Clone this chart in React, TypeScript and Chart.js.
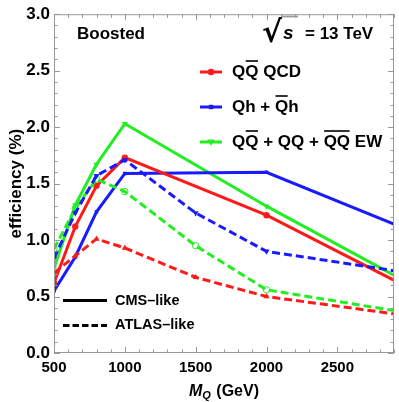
import React, { useEffect, useRef } from 'react';
import { Chart, registerables } from 'chart.js';
Chart.register(...registerables);

const masses = [500, 650, 800, 1000, 1500, 2000, 3000];
const qcdCms = [0.62, 1.12, 1.48, 1.73, null, 1.22, 0.58];
const qhCms = [0.55, 0.85, 1.25, 1.59, null, 1.6, 1.09];
const ewCms = [0.75, 1.31, 1.67, 2.03, null, 1.3, 0.62];
const qcdAtlas = [0.71, 0.86, 1.01, 0.93, 0.67, 0.5, 0.33];
const qhAtlas = [0.84, 1.24, 1.57, 1.71, 1.24, 0.9, 0.71];
const ewAtlas = [0.92, 1.28, 1.54, 1.43, 0.95, 0.56, 0.355];

const xTicks = [500, 1000, 1500, 2000, 2500];
const yTicks = [0, 0.5, 1.0, 1.5, 2.0, 2.5, 3.0];

const RED = '#ff1a1a';
const BLUE = '#1a1aff';
const GREEN = '#22ee22';
const FONT = '"Liberation Sans", Arial, sans-serif';

type Part = { t: string; o?: boolean };

function drawRich(ctx: CanvasRenderingContext2D, parts: Part[], x: number, y: number, font: string) {
  ctx.font = font;
  ctx.textBaseline = 'alphabetic';
  ctx.textAlign = 'left';
  let cx = x;
  for (const p of parts) {
    const w = ctx.measureText(p.t).width;
    ctx.fillText(p.t, cx, y);
    if (p.o) {
      ctx.save();
      ctx.lineWidth = 1.6;
      ctx.strokeStyle = '#000';
      ctx.beginPath();
      ctx.moveTo(cx + 0.5, y - 16);
      ctx.lineTo(cx + w - 0.5, y - 16);
      ctx.stroke();
      ctx.restore();
    }
    cx += w;
  }
}

function marker(ctx: CanvasRenderingContext2D, kind: string, x: number, y: number, color: string) {
  ctx.save();
  ctx.fillStyle = color;
  ctx.beginPath();
  if (kind === 'circle') {
    ctx.arc(x, y, 3.2, 0, Math.PI * 2);
  } else if (kind === 'rect') {
    ctx.rect(x - 2.2, y - 2.2, 4.4, 4.4);
  } else {
    ctx.moveTo(x - 3.8, y - 2.5);
    ctx.lineTo(x + 3.8, y - 2.5);
    ctx.lineTo(x, y + 3.8);
    ctx.closePath();
  }
  ctx.fill();
  ctx.restore();
}

const overlay = {
  id: 'overlay',
  afterDraw(chart: any) {
    const ctx: CanvasRenderingContext2D = chart.ctx;
    const a = chart.chartArea;
    const xs = chart.scales.x;
    const ys = chart.scales.y;
    ctx.save();
    // frame
    ctx.strokeStyle = '#999';
    ctx.lineWidth = 1;
    ctx.strokeRect(a.left + 0.5, a.top + 0.5, a.right - a.left - 1, a.bottom - a.top - 1);
    // ticks
    ctx.beginPath();
    for (let v = 500; v <= 2900; v += 100) {
      const px = Math.round(xs.getPixelForValue(v)) + 0.5;
      const len = v % 500 === 0 ? 6 : 3.5;
      ctx.moveTo(px, a.bottom);
      ctx.lineTo(px, a.bottom - len);
      ctx.moveTo(px, a.top);
      ctx.lineTo(px, a.top + len);
    }
    for (let i = 0; i <= 30; i++) {
      const v = i / 10;
      const py = Math.round(ys.getPixelForValue(v)) + 0.5;
      const len = i % 5 === 0 ? 6 : 3.5;
      ctx.moveTo(a.left, py);
      ctx.lineTo(a.left + len, py);
      ctx.moveTo(a.right, py);
      ctx.lineTo(a.right - len, py);
    }
    ctx.stroke();

    ctx.fillStyle = '#000';
    // Boosted
    ctx.font = `bold 17px ${FONT}`;
    ctx.textAlign = 'left';
    ctx.textBaseline = 'alphabetic';
    ctx.fillText('Boosted', 77, 39);

    // sqrt(s) = 13 TeV
    ctx.font = `bold 30px "DejaVu Sans"`;
    ctx.fillText('√', 262, 42);
    ctx.lineWidth = 1.8;
    ctx.beginPath();
    ctx.moveTo(281, 16.5);
    ctx.lineTo(298, 16.5);
    ctx.stroke();
    ctx.font = `italic bold 19px ${FONT}`;
    ctx.fillText('s', 283, 39);
    ctx.font = `bold 17px ${FONT}`;
    ctx.fillText('= 13 TeV', 305, 39);

    // legend
    const leg = [
      { c: RED, k: 'circle', y: 72, parts: [{ t: 'Q' }, { t: 'Q', o: true }, { t: ' QCD' }] },
      { c: BLUE, k: 'rect', y: 107, parts: [{ t: 'Qh + ' }, { t: 'Q', o: true }, { t: 'h' }] },
      {
        c: GREEN,
        k: 'tri',
        y: 142,
        parts: [{ t: 'Q' }, { t: 'Q', o: true }, { t: ' + QQ + ' }, { t: 'QQ', o: true }, { t: ' EW' }],
      },
    ];
    for (const l of leg) {
      ctx.strokeStyle = l.c;
      ctx.lineWidth = 3;
      ctx.beginPath();
      ctx.moveTo(200, l.y);
      ctx.lineTo(222, l.y);
      ctx.stroke();
      marker(ctx, l.k, 211, l.y, l.c);
      ctx.fillStyle = '#000';
      drawRich(ctx, l.parts, 232, l.y + 5, `bold 17px ${FONT}`);
    }

    // line style legend
    ctx.strokeStyle = '#000';
    ctx.lineWidth = 3;
    ctx.beginPath();
    ctx.moveTo(63, 300.5);
    ctx.lineTo(107, 300.5);
    ctx.stroke();
    ctx.setLineDash([6.5, 3]);
    ctx.beginPath();
    ctx.moveTo(63, 325.5);
    ctx.lineTo(107, 325.5);
    ctx.stroke();
    ctx.setLineDash([]);
    ctx.font = `bold 14.5px ${FONT}`;
    ctx.textBaseline = 'middle';
    ctx.fillText('CMS–like', 115, 301);
    ctx.fillText('ATLAS–like', 115, 325);

    // axis titles
    ctx.textBaseline = 'alphabetic';
    ctx.save();
    ctx.translate(21, (a.top + a.bottom) / 2);
    ctx.rotate(-Math.PI / 2);
    ctx.textAlign = 'center';
    ctx.font = `bold 17px ${FONT}`;
    ctx.fillText('efficiency (%)', 0, 0);
    ctx.restore();

    ctx.textAlign = 'left';
    const f1 = `italic bold 16px ${FONT}`;
    const f2 = `italic bold 11px ${FONT}`;
    const f3 = `bold 16px ${FONT}`;
    ctx.font = f1;
    const wM = ctx.measureText('M').width;
    ctx.font = f2;
    const wQ = ctx.measureText('Q').width;
    ctx.font = f3;
    const wR = ctx.measureText(' (GeV)').width;
    const total = wM + wQ + 1 + wR;
    let x0 = (a.left + a.right) / 2 - total / 2;
    const by = 396;
    ctx.font = f1;
    ctx.fillText('M', x0, by);
    ctx.font = f2;
    ctx.fillText('Q', x0 + wM, by + 3);
    ctx.font = f3;
    ctx.fillText(' (GeV)', x0 + wM + wQ + 1, by);
    ctx.restore();
  },
};

function series(vals: (number | null)[]) {
  return masses.map((m, i) => ({ x: m, y: vals[i] }));
}

export default function App() {
  const ref = useRef<HTMLCanvasElement>(null);
  useEffect(() => {
    if (!ref.current) return;
    const mk = (label: string, vals: (number | null)[], color: string, dashed: boolean, ps: string, rot = 0, open = false) => ({
      label,
      data: series(vals),
      borderColor: color,
      backgroundColor: open ? 'rgba(255,255,255,0)' : color,
      borderWidth: 3,
      borderDash: dashed ? [8, 4] : [],
      pointStyle: ps,
      pointRotation: rot,
      pointRadius: ps === 'rect' ? 2.5 : ps === 'circle' ? 3.2 : 3.5,
      pointBorderWidth: open ? 1 : 0,
      pointBorderColor: color,
      pointBackgroundColor: open ? 'rgba(255,255,255,0)' : color,
      spanGaps: true,
      tension: 0,
    });
    const chart = new Chart(ref.current, {
      type: 'line',
      data: {
        datasets: [
          mk('QQbar QCD ATLAS', qcdAtlas, RED, true, 'triangle'),
          mk('Qh ATLAS', qhAtlas, BLUE, true, 'triangle', 180),
          mk('EW ATLAS', ewAtlas, GREEN, true, 'circle', 0, true),
          mk('QQbar QCD CMS', qcdCms, RED, false, 'circle'),
          mk('Qh CMS', qhCms, BLUE, false, 'rect'),
          mk('EW CMS', ewCms, GREEN, false, 'triangle', 180),
        ] as any,
      },
      options: {
        animation: false,
        responsive: false,
        events: [],
        layout: { padding: { top: 10, right: 2, left: 0, bottom: 0 } },
        plugins: { legend: { display: false }, tooltip: { enabled: false } },
        scales: {
          x: {
            type: 'linear',
            min: 500,
            max: 2900,
            afterFit: (s: any) => {
              s.height = 49;
            },
            afterBuildTicks: (s: any) => {
              s.ticks = xTicks.map((v) => ({ value: v }));
            },
            grid: { display: false, drawTicks: false },
            border: { display: false },
            ticks: {
              padding: 6,
              color: '#000',
              font: { family: FONT, size: 15, weight: 'bold' },
              callback: (v: any) => String(v),
              maxRotation: 0,
            },
          },
          y: {
            type: 'linear',
            min: 0,
            max: 3,
            afterFit: (s: any) => {
              s.width = 54;
            },
            afterBuildTicks: (s: any) => {
              s.ticks = yTicks.map((v) => ({ value: v }));
            },
            grid: { display: false, drawTicks: false },
            border: { display: false },
            ticks: {
              padding: 4,
              color: '#000',
              font: { family: FONT, size: 17, weight: 'bold' },
              callback: (v: any) => Number(v).toFixed(1),
            },
          },
        },
      } as any,
      plugins: [overlay],
    });
    return () => chart.destroy();
  }, []);
  return (
    <div style={{ position: 'fixed', left: 0, top: 0, width: 399, height: 402, background: '#fff' }}>
      <canvas ref={ref} width={399} height={402} style={{ width: 399, height: 402, display: 'block' }} />
    </div>
  );
}
